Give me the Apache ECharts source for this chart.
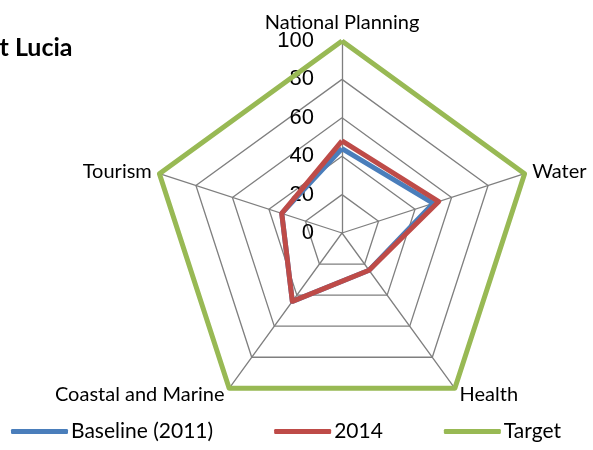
<!DOCTYPE html>
<html>
<head>
<meta charset="utf-8">
<script src="https://cdn.jsdelivr.net/npm/echarts@6/dist/echarts.min.js"></script>
<style>
  html, body { margin: 0; padding: 0; background: #fff; }
  #chart { width: 593px; height: 450px; }
</style>
</head>
<body>
<div id="chart"></div>
<script>
// radar spokes run counter-clockwise from the top in ECharts
const indicators = ['National Planning', 'Tourism', 'Coastal and Marine', 'Health', 'Water'];
const baseline2011 = [44, 33, 44, 24, 50];
const values2014 = [48, 33, 44, 24, 53];
const target = [100, 100, 100, 100, 100];
const tickValues = [0, 20, 40, 60, 80, 100];

const font = 'Lato, "Open Sans", sans-serif';
const gridGray = '#7f7f7f';

const chart = echarts.init(document.getElementById('chart'));

const makeSeries = (name, data, color) => ({
    name,
    type: 'radar',
    data: [{ value: data, name }],
    symbol: 'none',
    lineStyle: { color, width: 5 },
    itemStyle: { color },
});

chart.setOption({
    animation: false,
    title: {
        text: 'Saint Lucia',
        left: -52,
        top: 30,
        textStyle: { fontFamily: font, fontSize: 25, fontWeight: 'bold', color: '#000' },
    },
    legend: {
        bottom: 3,
        left: 6,
        itemWidth: 57,
        itemHeight: 5,
        itemGap: 61,
        icon: 'roundRect',
        textStyle: { fontFamily: font, fontSize: 21, color: '#000', padding: [0, 0, 0, -2] },
        data: ['Baseline (2011)', '2014', 'Target'],
    },
    // hidden cartesian axis laid over the top radar spoke to carry the tick labels
    grid: { left: 342, top: 41, width: 1, height: 192 },
    xAxis: { type: 'value', show: false },
    yAxis: {
        type: 'value',
        min: tickValues[0],
        max: tickValues[tickValues.length - 1],
        interval: 20,
        axisLine: { show: false },
        axisTick: { show: false },
        splitLine: { show: false },
        axisLabel: { fontFamily: 'Liberation Sans, Arial, sans-serif', fontSize: 22, color: '#000', margin: 28 },
    },
    radar: {
        center: [342, 233],
        radius: 192,
        startAngle: 90,
        splitNumber: 5,
        shape: 'polygon',
        axisName: { color: '#000', fontFamily: font, fontSize: 20 },
        nameGap: 8,
        indicator: indicators.map(name => ({ name, min: 0, max: 100 })),
        splitLine: { lineStyle: { color: gridGray, width: 1.3 } },
        splitArea: { show: false },
        axisLine: { lineStyle: { color: gridGray, width: 1.3 } },
    },
    series: [
        makeSeries('Target', target, '#98b954'),
        makeSeries('Baseline (2011)', baseline2011, '#4a7ebb'),
        makeSeries('2014', values2014, '#be4b48'),
    ],
});
</script>
</body>
</html>
